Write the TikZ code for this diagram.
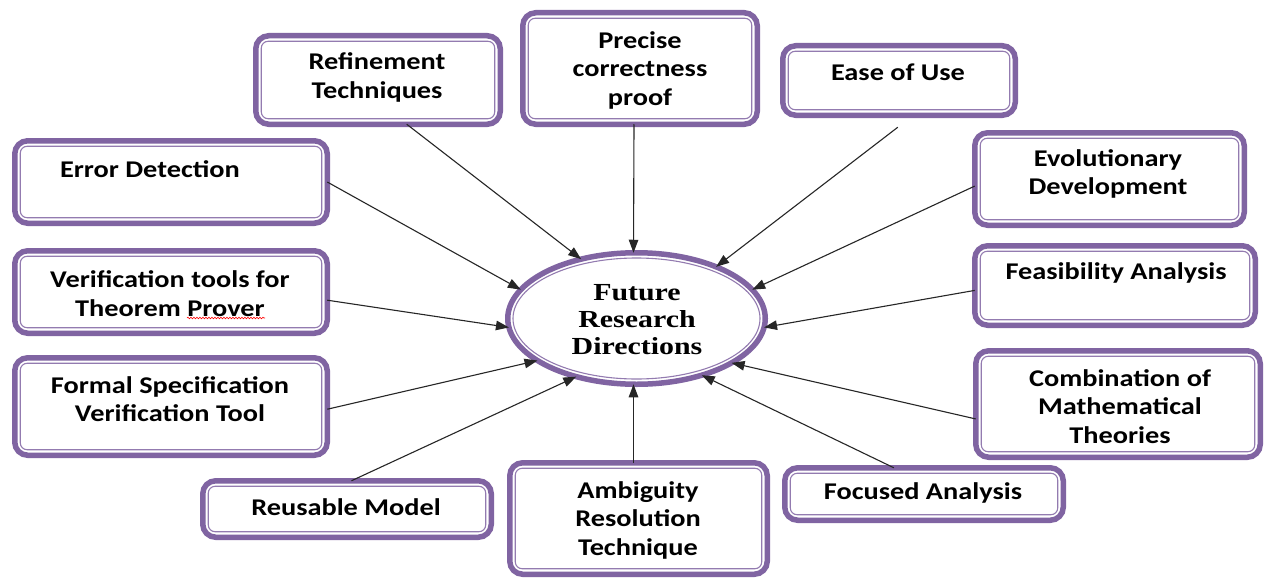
\documentclass[tikz,border=0pt]{standalone}
\usepackage{fontspec}
\setmainfont{Carlito}[FakeStretch=1.18]
\newfontfamily\tms{Liberation Serif}[FakeStretch=1.22]
\usetikzlibrary{arrows.meta,decorations.pathmorphing,shapes.geometric}
\definecolor{pur}{HTML}{8064A2}
\tikzset{
  bx/.style={draw=pur, line width=5.5pt, rounded corners=13pt, fill=white, inner sep=0pt, outer sep=0pt},
  inl/.style={draw=pur!85, line width=1.1pt, rounded corners=7pt},
  lbl/.style={align=center, inner sep=0pt, font=\bfseries\fontsize{24}{28.5}\selectfont},
  arr/.style={draw=black!85, line width=1.1pt, -{Triangle[length=13pt,width=9.5pt]}},
}
\newcommand\bbox[4]{%
  \node[bx, minimum width=#3pt, minimum height=#4pt] (#1) at #2 {};
  \draw[inl] ([shift={(5.5pt,5.5pt)}]#1.south west) rectangle ([shift={(-5.5pt,-5.5pt)}]#1.north east);
}
\begin{document}
\begin{tikzpicture}[x=1pt,y=-1pt]
\useasboundingbox[fill=white] (0,0) rectangle (1265,578);
% boxes
\bbox{err}{(171,182)}{312.5}{82.5}
\bbox{ver}{(171,292)}{312.5}{82.5}
\bbox{frm}{(171,406.5)}{312.5}{97.5}
\bbox{reu}{(347,509)}{288.5}{56.5}
\bbox{amb}{(638.5,518.5)}{257.5}{111.5}
\bbox{foc}{(924,494)}{278.5}{52.5}
\bbox{com}{(1118,404)}{284.5}{106.5}
\bbox{fea}{(1115,285.5)}{280.5}{79.5}
\bbox{evo}{(1109.5,179)}{269.5}{92.5}
\bbox{eas}{(899,80.5)}{232.5}{69.5}
\bbox{pre}{(640,68.5)}{234.5}{111.5}
\bbox{ref}{(378,80)}{244.5}{88.5}
% centre
\node[draw=pur, line width=5.5pt, ellipse, fill=white, inner sep=0pt, outer sep=0pt,
      minimum width=257.5pt, minimum height=131.5pt] (fut) at (636.5,318.5) {};
\draw[draw=pur!85, line width=1.1pt] (fut.center) ellipse [x radius=123.5pt, y radius=60.5pt];
% labels
\node[lbl] (err-t) at (150,169) {Error Detection};
\node[lbl] (ver-t) at (170,293.5) {Verification tools for\\Theorem Prover};
\node[lbl] (frm-t) at (170,399) {Formal Specification\\Verification Tool};
\node[lbl] (reu-t) at (346,507) {Reusable Model};
\node[lbl] (amb-t) at (638,520) {Ambiguity\\Resolution\\Technique};
\node[lbl] (foc-t) at (923,493) {Focused Analysis};
\node[lbl] (com-t) at (1120,406.5) {Combination of\\Mathematical\\Theories};
\node[lbl] (fea-t) at (1116,273) {Feasibility Analysis};
\node[lbl] (evo-t) at (1108,174) {Evolutionary\\Development};
\node[lbl] (eas-t) at (898,72) {Ease of Use};
\node[lbl] (pre-t) at (640,70) {Precise\\correctness\\proof};
\node[lbl] (ref-t) at (377,77.5) {Refinement\\Techniques};
\node[align=center, inner sep=0pt, font=\tms\bfseries\fontsize{24.5}{27}\selectfont] (fut-t) at (637,320) {Future\\Research\\Directions};
% spell-check squiggle
\draw[red, line width=0.6pt, decorate, decoration={snake, amplitude=0.8pt, segment length=3pt}] (187,318) -- (265,318);
% arrows
\draw[arr] (ref.-57) -- (fut.133.6);
\draw[arr] ([xshift=-6pt]pre.south) -- ([xshift=-3pt]fut.north);
\draw[arr] ([yshift=-12pt]eas.-92.4) -- (fut.33.5);
\draw[arr] (evo.183.3) -- (fut.14.3);
\draw[arr] (fea.182.2) -- (fut.-4);
\draw[arr] (com.186.3) -- (fut.-25.2);
\draw[arr] (foc.139.5) -- (fut.-41.7);
\draw[arr] ([xshift=-5pt]amb.north) -- ([xshift=-3pt]fut.south);
\draw[arr] (reu.81) -- (fut.224.2);
\draw[arr] (frm.-1.3) -- (fut.203.1);
\draw[arr] (ver.-3.6) -- (fut.184.9);
\draw[arr] (err.0.7) -- (fut.166);
\end{tikzpicture}
\end{document}
